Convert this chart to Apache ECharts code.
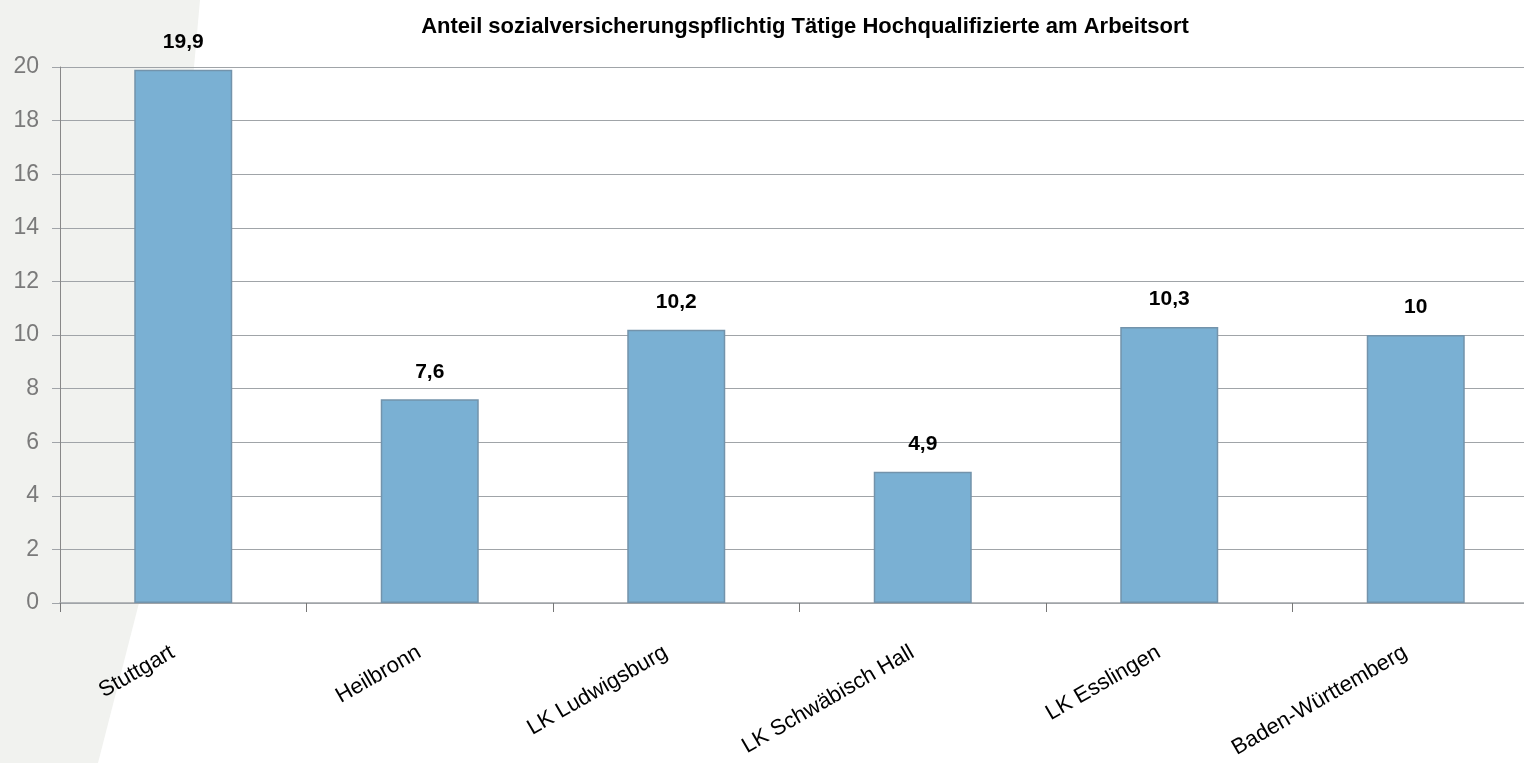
<!DOCTYPE html>
<html>
<head>
    <meta charset="utf-8">
    <title>Hochqualifizierte am Arbeitsort</title>
    <script src="https://cdn.jsdelivr.net/npm/echarts@6/dist/echarts.min.js"></script>
    <style>
        html, body { margin: 0; padding: 0; background: #fff; }
        #chart { width: 1524px; height: 763px; }
    </style>
</head>
<body>
    <div id="chart"></div>
    <script>
        // Werte
        var regionen = ['Stuttgart', 'Heilbronn', 'LK Ludwigsburg', 'LK Schwäbisch Hall', 'LK Esslingen', 'Baden-Württemberg'];
        var anteil = [19.9, 7.6, 10.2, 4.9, 10.3, 10];
        var yMin = 0, yMax = 20, yStep = 2;

        var chart = echarts.init(document.getElementById('chart'));

        var option = {
            backgroundColor: '#ffffff',
            animation: false,
            // heller Hintergrundschatten links wie im Original
            graphic: [{
                type: 'polygon',
                z: -10,
                silent: true,
                shape: { points: [[0, 0], [200, 0], [150, 560], [98, 763], [0, 763]] },
                style: { fill: '#f1f2ef' }
            }],
            title: {
                text: 'Anteil sozialversicherungspflichtig Tätige Hochqualifizierte am Arbeitsort',
                left: 800,
                textAlign: 'center',
                top: 11,
                textStyle: {
                    fontFamily: 'Liberation Sans',
                    fontWeight: 'bold',
                    fontSize: 22,
                    color: '#000'
                }
            },
            // Plotfläche reicht rechts etwas über den Bildrand hinaus
            grid: { left: 60, width: 1479, top: 67, bottom: 160, outerBoundsMode: 'none' },
            xAxis: {
                type: 'category',
                data: regionen,
                axisLine: { lineStyle: { color: '#a0a4a8', width: 1.5 } },
                axisTick: { show: true, length: 9, lineStyle: { color: '#777' } },
                axisLabel: {
                    rotate: 30,
                    margin: 42,
                    padding: [0, 12, 0, 0],
                    interval: 0,
                    fontFamily: 'Liberation Sans',
                    fontSize: 22,
                    color: '#000'
                }
            },
            yAxis: {
                type: 'value',
                min: yMin,
                max: yMax,
                interval: yStep,
                axisLine: { show: true, lineStyle: { color: '#888' } },
                axisTick: { show: true, length: 8, lineStyle: { color: '#a0a4a8' } },
                splitLine: { lineStyle: { color: '#a0a4a8', width: 1.2 } },
                axisLabel: {
                    margin: 21,
                    fontFamily: 'Liberation Sans',
                    fontSize: 23,
                    color: '#7a7a7a'
                }
            },
            series: [{
                type: 'bar',
                data: anteil,
                barWidth: 98,
                itemStyle: {
                    color: '#7ab0d3',
                    borderColor: '#7393ab',
                    borderWidth: 1.5
                },
                label: {
                    show: true,
                    position: 'top',
                    distance: 17,
                    fontFamily: 'Liberation Sans',
                    fontWeight: 'bold',
                    fontSize: 21,
                    color: '#000',
                    formatter: function (p) {
                        return String(p.value).replace('.', ',');
                    }
                }
            }]
        };

        chart.setOption(option);
    </script>
</body>
</html>
